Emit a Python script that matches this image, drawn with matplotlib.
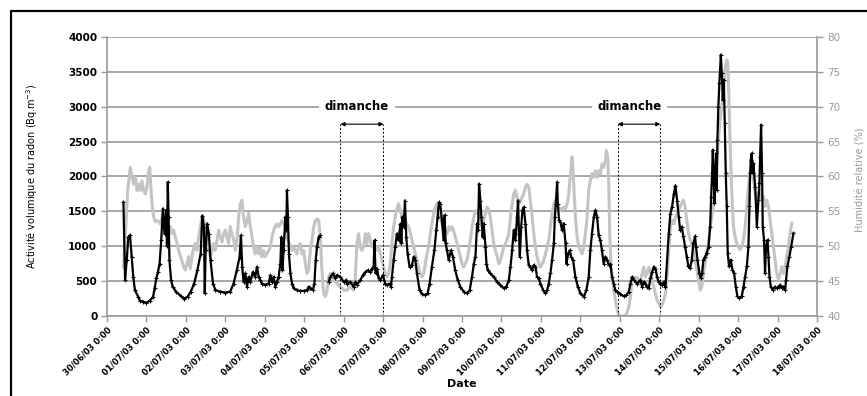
import numpy as np
import matplotlib.pyplot as plt
from matplotlib.lines import Line2D

# dates des graduations (jours depuis le 30/06/03 0:00)
date_labels = ['30/06/03 0:00', '01/07/03 0:00', '02/07/03 0:00', '03/07/03 0:00',
               '04/07/03 0:00', '05/07/03 0:00', '06/07/03 0:00', '07/07/03 0:00',
               '08/07/03 0:00', '09/07/03 0:00', '10/07/03 0:00', '11/07/03 0:00',
               '12/07/03 0:00', '13/07/03 0:00', '14/07/03 0:00', '15/07/03 0:00',
               '16/07/03 0:00', '17/07/03 0:00', '18/07/03 0:00']

# activite volumique du radon : heures depuis le debut, Bq.m-3
radon_h = [10, 11, 12, 13, 14, 15, 16, 17, 19, 20, 22, 24, 26, 28, 29, 30, 31, 32, 33, 34,
           35, 36, 36.5, 37, 37.5, 38, 39, 40, 42, 45, 47, 49, 51, 53, 55, 57, 58, 59, 59.5, 60,
           61, 62, 63, 64.5, 66, 69, 72, 75, 77, 79, 80.7, 81.5, 82.3, 83.1, 84.2, 85.2, 86.2,
           87.2, 88.8, 90.2, 91.3, 92.3, 93.3, 94.3, 96.3, 98.4, 99.4, 100.4, 101.4, 102.4,
           103.4, 104.4, 105.5, 106.1, 106.7, 107.5, 108.5, 109.1, 109.5, 110.1, 110.7, 111.6,
           112.6, 113.6, 115.6, 117.6, 119.7, 121.7, 122.7, 123.7, 125.3, 126.2, 127, 127.8,
           128.8, 129.8, 131, 134.9, 135.9, 137.5, 138.9, 140, 142, 144, 145.6,
           146, 148, 150.1, 151.1, 152.1, 154.1, 155.7, 157.2, 158.6, 160.2, 161.2, 162.2,
           162.8, 163.4, 164.3, 165.3, 166.3, 167.9, 169.3, 170.3, 172, 172.8, 173.4, 174.4,
           175.4, 176.4, 177.4, 178.5, 179.1, 179.7, 180.5, 181.3, 182.1, 182.9, 184.1, 185.6,
           186.6, 187.6, 188.6, 190.2, 191.7, 193.7, 195.1, 196.3, 197.7, 199.2, 200.4, 201.2,
           202, 202.8, 203.8, 204.8, 205.4, 206.1, 206.9, 207.9, 209.3, 210.5, 211.9, 213.4,
           215, 217, 219, 220.7, 222.1, 223.2, 224.2, 225.2, 225.8, 226.4, 227.2, 227.8, 228.6,
           229.2, 230.3, 230.9, 231.7, 233.3, 235.3, 237.4, 239.4, 241.4, 243, 244.5, 245.5,
           246.5, 247.5, 248.5, 249.5, 250.1, 250.7, 251.2, 252, 252.8, 253.6, 254.6, 255.6,
           256.6, 257.6, 258.7, 259.7, 260.7, 261.7, 262.7, 263.7, 265.4, 266.8, 267.8, 268.8,
           269.8, 270.8, 271.9, 272.5, 273.1, 273.9, 274.3, 275.1, 275.9, 276.9, 277.9, 279,
           279.6, 280.6, 281.6, 282.4, 283.6, 285, 286.5, 288.1, 290.1, 291.7, 293.1, 294.1,
           295.1, 296.2, 297.2, 298.2, 299.2, 300.2, 301.2, 302.2, 303.3, 304.3, 305.3, 306.3,
           307.3, 308.3, 309.3, 310.4, 312.4, 314.4, 316, 317.5, 318.5, 319.5, 320.5, 322.5,
           324.6, 325.6, 326.6, 327.6, 328.6, 329.6, 330.7, 331.7, 332.7, 333.7, 334.7, 335.7,
           336.7, 337.8, 338.8, 339.8, 341.8, 342.8, 343.8, 344.9, 345.9, 346.9, 347.9,
           348.7, 349.7, 350.7, 351.7, 352.8, 353.8, 354.8, 355.8, 356.8, 357.8, 358.4, 359.3,
           360.5, 361.3, 362.1, 362.9, 363.9, 364.9, 366, 367, 367.6, 368.2, 368.6, 369, 369.6,
           370.2, 370.6, 371, 371.4, 372, 372.6, 373.5, 374.1, 374.7, 375.3, 375.9, 376.5,
           377.1, 377.7, 378.5, 379.5, 380.6, 381.6, 382.6, 383.6, 384.8, 386.2, 387.3, 388.3,
           389.3, 390.3, 390.9, 391.3, 391.7, 392.3, 392.9, 393.3, 394.4, 395.4, 396.4, 397,
           397.4, 398, 398.6, 399, 399.8, 400.4, 401, 401.9, 402.5, 403.1, 403.9, 405.1, 406.5,
           407.5, 408.6, 409.6, 410.6, 411.6, 412.6, 413.2, 414, 415.2, 416.3, 417.7]
radon = [1630, 520, 800, 1130, 1160, 850, 560, 370, 275, 220, 205, 190, 220, 275, 395, 540, 630,
         750, 1085, 1540, 1180, 1510, 1000, 1920, 1420, 800, 515, 420, 350, 285, 250, 275, 350,
         465, 655, 895, 1440, 1275, 325, 940, 1325, 1180, 800, 465, 370, 350, 335, 350, 465,
         655, 850, 1155, 700, 490, 610, 420, 560, 490, 630, 560, 705, 560, 515, 465, 445, 465,
         585, 490, 560, 420, 490, 560, 750, 1130, 655, 940, 1420, 1230, 1800, 1420, 895, 610,
         465, 395, 370, 360, 360, 370, 420, 395, 370, 465, 800, 990, 1130, 1155, np.nan, 490,
         560, 610, 540, 585, 560, 490, 515,
         465, 490, 420, 490, 445, 515, 585, 630, 655, 630, 680, 705, 1085, 610, 680, 540, 515,
         585, 465, 445, 465, 420, 560, 800, 990, 1180, 1085, 1320, 1040, 1420, 1275, 1655,
         1130, 895, 705, 730, 850, 800, 610, 370, 315, 300, 325, 465, 705, 940, 1230, 1420,
         1630, 1605, 1370, 1085, 1445, 1040, 940, 800, 940, 850, 655, 515, 420, 350, 325, 370,
         560, 750, 850, 1325, 1230, 1895, 1655, 1420, 1130, 1325, 990, 750, 655, 610, 560, 490,
         445, 395, 420, 515, 705, 940, 1230, 1085, 1420, 1655, 1180, 850, 1275, 1515, 1560,
         1325, 940, 730, 705, 655, 730, 705, 560, 540, 465, 370, 325, 370, 465, 610, 800, 1040,
         1420, 1610, 1920, 1610, 1370, 1345, 1230, 1325, 1040, 750, 895, 940, 850, 800, 560,
         420, 325, 275, 370, 560, 940, 1180, 1420, 1515, 1420, 1155, 1085, 940, 750, 850, 800,
         730, 750, 560, 465, 370, 350, 315, 285, 300, 350, 465, 560, 515, 465, 515, 420, 490,
         465, 420, 395, 540, 630, 705, 680, 560, 490, 465, 445, 490, 420, 1180, 1465, 1560,
         1750, 1870, 1655, 1420,
         1235, 1280, 1140, 995, 850, 710, 685, 805, 1040, 1140, 995, 805, 610, 540, 610, 805,
         850, 900, 995, 1280, 1710, 2045, 2380, 2140, 1615, 2045, 2330, 1810, 2525, 3000, 3335,
         3745, 3480, 3100, 3385, 2760, 2045, 1570, 900, 710, 805, 660, 610, 420, 280, 255, 280,
         420, 565, 710, 995, 1570, 2045, 2235, 2330, 2045, 2190, 1855, 1280, 1665, 1910, 2285,
         2740, 2045, 1280, 1090, 610, 995, 1090, 850, 565, 420, 375, 420, 400, 420, 445, 400,
         420, 375, 515, 710, 850, 995, 1185]

# humidite relative : heures depuis le debut, %
hum_h = [10.1, 11.2, 12.6, 14.2, 15.2, 16.2, 17.2, 18.3, 19.3, 20.3, 21.3, 22.3, 23.3, 24.3,
         25.4, 26, 26.8, 27.4, 28.4, 29.4, 30.4, 31.4, 32.5, 33.5, 34.5, 35.5, 36.5, 37.5, 38.6,
         39.6, 40.6, 41.6, 42.6, 43.6, 44.6, 45.7, 46.7, 47.7, 48.7, 49.7, 50.7, 51.7, 52.8,
         53.8, 54.8, 55.8, 56.8, 57.8, 58.8, 59.9, 60.9, 61.9, 62.9, 63.9, 64.9, 65.9, 67, 68,
         69, 70, 71, 72, 73, 74, 75, 76, 77.1, 78.1, 79.1, 80.1, 81.1, 82.1, 83.1, 84.2, 85.2,
         86.2, 87.2, 88.2, 89.2, 90.2, 91.3, 92.3, 93.3, 94.3, 95.3, 96.3, 97.3, 98.4, 99.4,
         100.4, 101.4, 102.4, 103.4, 104.4, 105.5, 106.5, 107.5, 108.5, 109.5, 110.5, 111.6,
         112.6, 113.6, 114.6, 115.6, 116.6, 117.6, 118.7, 119.7, 120.7, 121.7, 122.7, 123.7,
         124.7, 125.8, 126.8, 127.8, 128.8, 129.8, 130.8, 131.8, 132.9, 133.9, 134.9, 135.9,
         137.9, 140, 142, 144, 146, 148, 150.1, 151.1, 152.1, 153.1, 154.1, 155.1, 156.1,
         157.2, 158.2, 159.2, 160.2, 161.2, 162.2, 163.2, 164.3, 165.3, 166.3, 167.3, 168.3,
         169.3, 170.3, 171.4, 172.4, 173.4, 174.4, 175.4, 176.4, 177.4, 178.5, 179.5, 180.5,
         181.5, 182.5, 183.5, 184.6, 185.6, 186.6, 187.6, 188.6, 189.6, 190.6, 191.7, 192.7,
         193.7, 194.7, 195.7, 196.7, 197.7, 198.8, 199.8, 200.8, 201.8, 202.8, 203.8, 204.8,
         205.9, 206.9, 207.9, 208.9, 209.9, 210.9, 211.9, 213, 214, 215, 216, 217, 218, 219,
         220.1, 221.1, 222.1, 223.2, 224.2, 225.2, 226.2, 227.2, 228.2, 229.2, 230.3, 231.3,
         232.3, 233.3, 234.3, 235.3, 236.3, 237.4, 238.4, 239.4, 240.4, 241.4, 242.4, 243.4,
         244.5, 245.5, 246.5, 247.5, 248.5, 249.5, 250.5, 251.6, 252.6, 253.6, 254.6, 255.6,
         256.6, 257.6, 258.7, 259.7, 260.7, 261.7, 262.7, 263.7, 264.8, 265.8, 266.8, 267.8,
         268.8, 269.8, 270.8, 271.9, 272.9, 273.9, 274.9, 275.9, 276.9, 277.9, 279, 280, 281,
         282, 283, 284, 285, 286.1, 287.1, 288.1, 289.1, 290.1, 291.1, 292.1, 293.1, 294.1,
         295.1, 296.2, 297.2, 298.2, 299.2, 300.2, 301.2, 302.2, 303.3, 303.9, 304.7, 305.3,
         305.9, 306.7, 307.9, 309.3, 310.4, 311.4, 312.4, 314.4, 315.4, 316.4, 317.5, 318.5,
         319.5, 320.5, 321.5, 322.5, 323.5, 324.6, 325.6, 326.6, 327.6, 328.6, 329.6, 330.7,
         331.7, 332.7, 333.7, 334.7, 335.7, 336.7, 337.8, 338.8, 339.8, 340.8, 341.8, 342.8,
         343.8, 344.9, 345.9, 346.9, 348.7, 349.7, 350.7, 351.7, 352.8, 353.8, 354.8, 355.8,
         356.8, 357.8, 358.8, 359.9, 360.9, 361.9, 362.9, 363.9, 364.9, 366, 367, 368, 369, 370,
         371, 372, 373, 374.1, 375.1, 376.1, 377.1, 377.7, 378.3, 379.1, 380.1, 381.2, 382.2,
         383.2, 384.2, 385.2, 386.2, 387.3, 388.3, 389.3, 390.3, 391.3, 392.3, 393.3, 394.4,
         395.4, 396.4, 397.4, 398.4, 399.4, 400.4, 401.5, 402.5, 403.5, 404.5, 405.5, 406.5,
         407.5, 408.6, 409.6, 410.6, 411.6, 412.6, 413.6, 414.6, 415.6, 416.7]
hum = [47.0, 51.8, 58.0, 61.3, 59.9, 58.9, 59.9, 58.0, 58.9, 58.0, 59.4, 58.0, 57.5, 58.5, 60.8,
       61.3, 58.0, 56.1, 54.2, 53.5, 53.7, 53.5, 53.2, 54.2, 54.7, 52.8, 53.2, 52.3, 52.8, 51.8,
       52.3, 51.3, 50.4, 49.4, 48.7, 47.8, 47.0, 46.6, 47.5, 48.5, 46.8, 48.5, 49.9, 50.4, 49.4,
       51.3, 52.8, 54.2, 53.9, 52.3, 50.9, 49.4, 48.5, 49.4, 50.4, 49.4, 50.9, 52.3, 51.3, 50.6,
       51.8, 52.3, 51.3, 50.4, 52.8, 51.8, 50.9, 49.4, 50.9, 54.2, 56.1, 56.6, 54.2, 52.8, 53.7,
       54.7, 52.8, 51.3, 49.9, 48.9, 49.9, 48.9, 49.9, 48.5, 49.4, 48.5, 48.9, 49.4, 49.9, 51.3,
       52.3, 52.8, 53.2, 52.8, 53.2, 53.7, 53.2, 52.8, 51.3, 50.6, 49.9, 49.4, 49.9, 49.4, 48.9,
       49.9, 50.4, 48.9, 49.4, 47.5, 46.1, 46.6, 49.4, 50.9, 52.8, 53.7, 53.9, 53.7, 51.3, 46.6,
       43.2, 42.8, 43.7, 45.6, 46.1, 45.1, 44.7, 44.2, 43.7, 43.7, 44.2, 43.7, 45.6, 50.4, 51.8,
       49.9, 49.4, 49.9, 51.8, 50.4, 51.8, 50.9, 49.9, 50.4, 49.9, 49.4, 49.9, 48.9, 48.0, 47.0,
       46.1, 45.6, 46.1, 47.5, 50.4, 52.8, 54.2, 55.4, 56.1, 55.1, 54.2, 52.8, 53.7, 53.2, 52.8,
       51.8, 50.9, 49.9, 48.9, 48.0, 47.0, 46.1, 45.6, 46.1, 47.5, 48.9, 49.9, 51.8, 53.2, 54.7,
       55.6, 56.1, 55.1, 54.2, 53.2, 52.8, 52.3, 51.8, 52.8, 52.3, 52.8, 52.3, 51.3, 50.4, 49.4,
       48.5, 47.5, 47.0, 47.5, 48.0, 49.4, 50.9, 52.8, 54.2, 55.1, 54.7, 55.1, 54.2, 52.8, 53.7,
       54.7, 55.6, 55.1, 54.2, 52.3, 50.4, 49.4, 48.5, 47.5, 48.0, 48.9, 49.9, 50.4, 50.9, 51.8,
       54.2, 56.1, 57.5, 58.0, 57.0, 56.1, 56.6, 57.0, 57.5, 58.5, 58.9, 58.5, 56.6, 54.2, 51.8,
       49.9, 48.5, 47.5, 47.0, 47.5, 48.0, 48.9, 49.9, 50.9, 52.8, 54.7, 56.1, 56.6, 56.1, 55.6,
       55.1, 55.4, 55.6, 55.4, 56.1, 57.5, 60.4, 62.8, 58.9, 54.2, 51.3, 49.9, 49.4, 48.9, 49.9,
       51.8, 54.0, 58.0, 59.4, 60.4, 59.9, 60.8, 59.9, 60.8, 60.4, 61.8, 61.3, 62.3, 63.7, 62.8,
       58.9, 51.8, 47.0, 44.7, 42.3, 40.9, 40.1, 40.0, 40.0, 40.1, 40.4, 41.3, 42.8, 45.1, 45.6,
       44.9, 45.6, 45.1, 44.7, 46.1, 47.0, 45.6, 46.1, 47.0, 46.3, 45.1, 44.2, 43.2, 42.3, 41.8,
       41.3, 41.6, 42.3, 43.2, 45.6, 49.4, 52.8, 53.7, 53.2, 54.2, 54.7, 55.7, 56.2, 56.6, 55.7,
       53.8, 51.9, 50.9, 50.4, 49.5, 48.0, 46.6, 45.2, 43.7, 44.2, 46.1, 47.6, 49.0, 50.4, 52.8,
       54.2, 55.7, 58.1, 61.4, 65.2, 68.1, 70.0, 72.4, 75.3, 76.7, 76.2, 72.4, 65.2, 58.1, 52.8,
       51.4, 50.4, 49.9, 49.5, 49.9, 50.9, 52.8, 55.7, 58.5, 60.5, 60.9, 59.5, 57.6, 56.6, 57.6,
       58.1, 56.6, 57.1, 55.7, 56.6, 55.7, 53.8, 51.9, 49.9, 48.0, 46.1, 45.2, 46.1, 47.1, 46.1,
       47.1, 48.5, 49.9, 51.9, 53.3]

# dimanches (jours) et position des etiquettes
sunday_start = [5.92, 12.95]
sunday_end = [7.01, 14.03]
sunday_text_x = [6.34, 13.24]
arrow_y = 2750
text_y = 3000

fig = plt.figure(figsize=(8.67, 3.96), dpi=100)
ax = fig.add_axes([0.1234, 0.202, 0.8189, 0.7046])
ax2 = ax.twinx()
ax.set_zorder(ax2.get_zorder() + 1)
ax.patch.set_visible(False)

grid_col = '#9a9a9a'
ax2.plot(np.array(hum_h) / 24, hum, color='#c4c4c4', lw=2.2, zorder=2)
ax.plot(np.array(radon_h) / 24, radon, color='black', lw=1.6, marker='+', ms=3, mew=0.8)

ax.set_xlim(0, 18)
ax.set_ylim(0, 4000)
ax2.set_ylim(40, 80)
ax.set_yticks(range(0, 4001, 500))
ax2.set_yticks(range(40, 81, 5))
ax.set_xticks(range(19))
ax.set_xticklabels(date_labels, rotation=45, ha='right', va='top', rotation_mode='anchor',
                   fontsize=6, fontweight='bold')
for lab in ax.get_yticklabels():
    lab.set_fontweight('bold')
    lab.set_fontsize(7.5)
ax2.tick_params(axis='y', labelsize=7.5, labelcolor='#9a9a9a', colors=grid_col, length=4, width=1)
ax.tick_params(axis='y', length=4, width=1, color=grid_col, pad=3)
ax.tick_params(axis='x', length=4, width=1, color=grid_col, pad=3)

ax2.yaxis.grid(True, color=grid_col, lw=1.2)
ax2.set_axisbelow(True)
ax.spines['top'].set_visible(False)
ax2.spines['top'].set_visible(False)
ax.spines['right'].set_visible(False)
ax2.spines['left'].set_visible(False)
ax2.spines['bottom'].set_visible(False)
for sp in [ax.spines['left'], ax.spines['bottom'], ax2.spines['right']]:
    sp.set_color(grid_col)
    sp.set_linewidth(1.2)

ax.set_ylabel('Activité volumique du radon (Bq.m$^{-3}$)', fontsize=7)
ax.yaxis.set_label_coords(-0.094, 0.5)
ax2.set_ylabel('Humidité relative (%)', fontsize=7, color='#9a9a9a')
ax2.yaxis.set_label_coords(1.054, 0.49)
ax.set_xlabel('Date', fontsize=8, fontweight='bold')
ax.xaxis.set_label_coords(0.5, -0.225)

for x0, x1, xt in zip(sunday_start, sunday_end, sunday_text_x):
    ax.plot([x0, x0], [0, arrow_y], color='black', lw=0.7, ls=(0, (2, 2)))
    ax.plot([x1, x1], [0, arrow_y], color='black', lw=0.7, ls=(0, (2, 2)))
    ax.annotate('', xy=(x1, arrow_y), xytext=(x0, arrow_y),
                arrowprops=dict(arrowstyle='<|-|>', color='black', lw=0.8,
                                mutation_scale=6, shrinkA=0, shrinkB=0))
    ax.text(xt, text_y, 'dimanche', ha='center', va='center', fontsize=8.5,
            fontweight='bold', bbox=dict(facecolor='white', edgecolor='none', pad=4))

# cadre noir autour du graphique
fig.add_artist(Line2D([11 / 867, 11 / 867, 1], [0, 1 - 11 / 396, 1 - 11 / 396],
                      transform=fig.transFigure, color='black', lw=1.6))

plt.savefig('out.png', dpi=100)
